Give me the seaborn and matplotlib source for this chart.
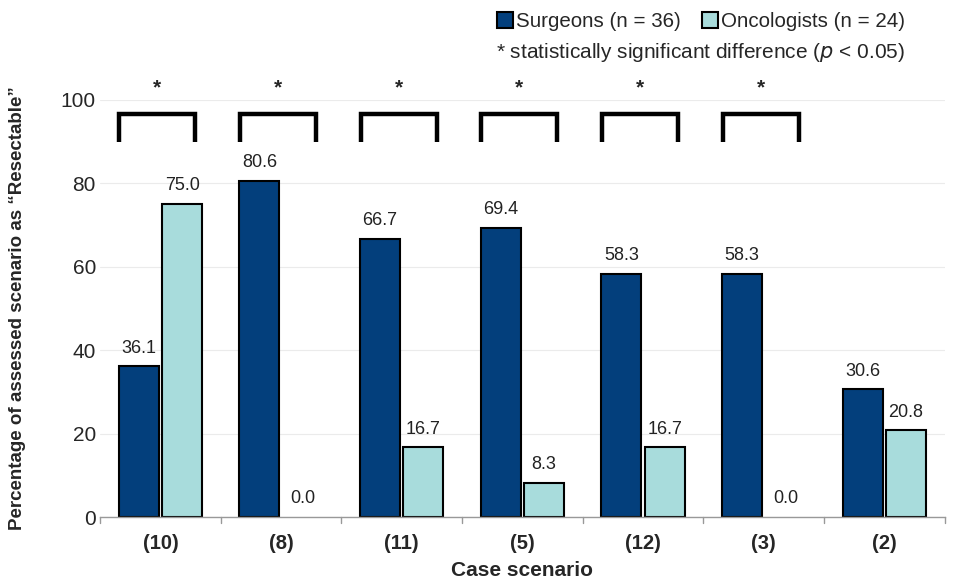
import matplotlib
matplotlib.use("Agg")
import matplotlib.pyplot as plt
import seaborn as sns
import pandas as pd
from matplotlib.lines import Line2D

cases = ["(10)", "(8)", "(11)", "(5)", "(12)", "(3)", "(2)"]
surgeons = [36.1, 80.6, 66.7, 69.4, 58.3, 58.3, 30.6]
oncologists = [75.0, 0.0, 16.7, 8.3, 16.7, 0.0, 20.8]
significant = [True, True, True, True, True, True, False]
groups = ["Surgeons (n = 36)", "Oncologists (n = 24)"]
yticks = [0, 20, 40, 60, 80, 100]

dark = "#033F7C"
light = "#A8DCDC"

df = pd.DataFrame({
    "case": cases * 2,
    "value": surgeons + oncologists,
    "group": [groups[0]] * len(cases) + [groups[1]] * len(cases),
})

sns.set_theme(style="white")
plt.rcParams["font.family"] = ["Liberation Sans", "DejaVu Sans"]

fig = plt.figure(figsize=(9.62, 5.87), dpi=100)
ax = fig.add_axes([0.104, 0.119, 0.878, 0.711])

sns.barplot(data=df, x="case", y="value", hue="group", order=cases,
            hue_order=groups, palette=[dark, light], saturation=1,
            width=0.72, gap=0.08, edgecolor="black", linewidth=1.5,
            ax=ax, legend=False)

for p in ax.patches:
    if p.get_height() == 0:
        p.set_linewidth(0)

for cont in ax.containers:
    ax.bar_label(cont, fmt="%.1f", padding=7, fontsize=13, color="#222222")

ax.set_ylim(0, 100)
ax.set_xlim(-0.5, len(cases) - 0.5)
ax.set_yticks(yticks)
ax.set_yticklabels([str(t) for t in yticks], fontsize=15)
ax.yaxis.grid(True, color="#EBEBEB", linewidth=0.8)
ax.set_axisbelow(True)
for s in ["top", "right", "left"]:
    ax.spines[s].set_visible(False)
ax.spines["bottom"].set_color("#999999")
ax.spines["bottom"].set_linewidth(1.0)

ax.set_xticks(range(len(cases)))
ax.set_xticklabels(cases, fontsize=14.5, fontweight="bold")
ax.tick_params(axis="x", length=0, pad=12)
ax.tick_params(axis="y", length=0, pad=3)
for b in [i - 0.5 for i in range(len(cases) + 1)]:
    ax.plot([b, b], [0, -0.015], transform=ax.get_xaxis_transform(),
            color="#999999", lw=1.0, clip_on=False)

ax.set_xlabel("Case scenario", fontsize=15, fontweight="bold", labelpad=6)
ax.set_ylabel("Percentage of assessed scenario as \u201cResectable\u201d",
              fontsize=13.5, fontweight="bold", labelpad=25)

for i, sig in enumerate(significant):
    if sig:
        x0, x1 = i - 0.34, i + 0.29
        ax.plot([x0, x0, x1, x1], [90, 96.5, 96.5, 90], color="black",
                lw=3.2, clip_on=False, solid_joinstyle="miter",
                solid_capstyle="butt")
        ax.text((x0 + x1) / 2, 100.5, "*", ha="center", va="bottom",
                fontsize=15, fontweight="bold", clip_on=False)

handles = [Line2D([], [], marker="s", linestyle="none", markersize=11,
                  markerfacecolor=c, markeredgecolor="black", markeredgewidth=1.5)
           for c in [dark, light]]
fig.legend(handles, groups, loc="upper left", bbox_to_anchor=(0.503, 1.0),
           ncol=2, frameon=False, fontsize=14.8, handletextpad=0.05,
           columnspacing=1.0, handlelength=0.9, borderaxespad=0.2)
fig.text(0.516, 0.911, "* statistically significant difference ($\\it{p}$ < 0.05)",
         fontsize=15, ha="left", va="center")

fig.savefig("out.png", dpi=100)
